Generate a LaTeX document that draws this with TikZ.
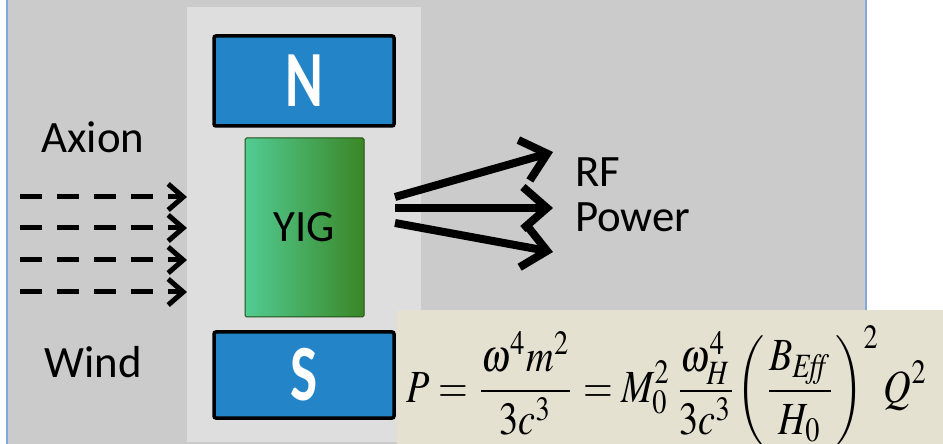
\documentclass[tikz,border=0pt]{standalone}
\usepackage{mathptmx}
\usepackage{fontspec}
\setmainfont{Carlito}
\usetikzlibrary{arrows.meta}
\definecolor{bggray}{HTML}{CBCBCB}
\definecolor{panelgray}{HTML}{DEDEDE}
\definecolor{framblue}{HTML}{7FA9DD}
\definecolor{magblue}{HTML}{2385C7}
\definecolor{yiglight}{HTML}{52CC93}
\definecolor{yigdark}{HTML}{3A8625}
\definecolor{eqbeige}{HTML}{E4E1D1}
\tikzset{
  magnet/.style={draw=black, line width=3.5bp, fill=magblue, rounded corners=2bp,
    minimum width=180bp, inner sep=0pt},
  label/.style={font=\fontsize{45}{45}\selectfont, inner sep=0pt},
  windarrow/.style={line width=5bp, dash pattern=on 21.5bp off 15.5bp,
    -{Straight Barb[length=15bp,width=26bp]}},
  rfarrow/.style={line width=8bp, -{Straight Barb[length=24bp,width=42bp]}},
}
\newcommand{\poleletter}[1]{\scalebox{0.72}[1]{\fontsize{80}{80}\selectfont\bfseries\color{white}#1}}
\begin{document}
\begin{tikzpicture}[x=1bp,y=-1bp]
\useasboundingbox (0,0) rectangle (943,444);
\fill[white] (0,0) rectangle (943,444);
\fill[bggray] (7,-5) rectangle (866,450);
\draw[framblue, line width=1.2bp] (7,-5) -- (7,450);
\draw[framblue, line width=1.2bp] (866,-5) -- (866,312);
\fill[panelgray] (187,7) rectangle (421,442);
% magnets
\node[magnet, minimum height=90bp] (N) at (304,81) {\poleletter{N}};
\node[magnet, minimum height=86bp] (S) at (304,375) {\poleletter{S}};
% YIG
\node[draw=yigdark!60!black, line width=1bp, left color=yiglight, right color=yigdark,
  minimum width=119bp, minimum height=179bp, rounded corners=1.5bp, label] (yig) at (304.5,227.5) {YIG};
% labels
\node[label] (axion) at (93,137) {Axion};
\node[label] (wind) at (93,362) {Wind};
\node[label, anchor=west] (rf) at (575,172) {RF};
\node[label, anchor=west] (power) at (575,217) {Power};
% axion wind arrows
\foreach \i/\y in {1/197,2/228,3/260,4/292}{
  \coordinate (w\i s) at (20,\y);
  \coordinate (w\i e) at (187,\y);
  \draw[windarrow] (w\i s) -- (w\i e);
}
% RF arrows
\coordinate (r1s) at (395,197); \coordinate (r1e) at (553,152);
\coordinate (r2s) at (395,208); \coordinate (r2e) at (553,208);
\coordinate (r3s) at (395,223); \coordinate (r3e) at (553,252);
\draw[rfarrow] (r1s) -- (r1e);
\draw[rfarrow] (r2s) -- (r2e);
\draw[rfarrow] (r3s) -- (r3e);
% equation box
\fill[eqbeige] (397,310) rectangle (945,446);
\node[inner sep=0pt, anchor=north] (eq) at (667,326) {\resizebox*{521bp}{120bp}{$\displaystyle
  P=\frac{\omega^{4}m^{2}}{3c^{3}}=M_{0}^{2}\,\frac{\omega_{H}^{4}}{3c^{3}}\!\left(\frac{B_{\mathit{Eff}}}{H_{0}}\right)^{2}Q^{2}$}};
\end{tikzpicture}
\end{document}
